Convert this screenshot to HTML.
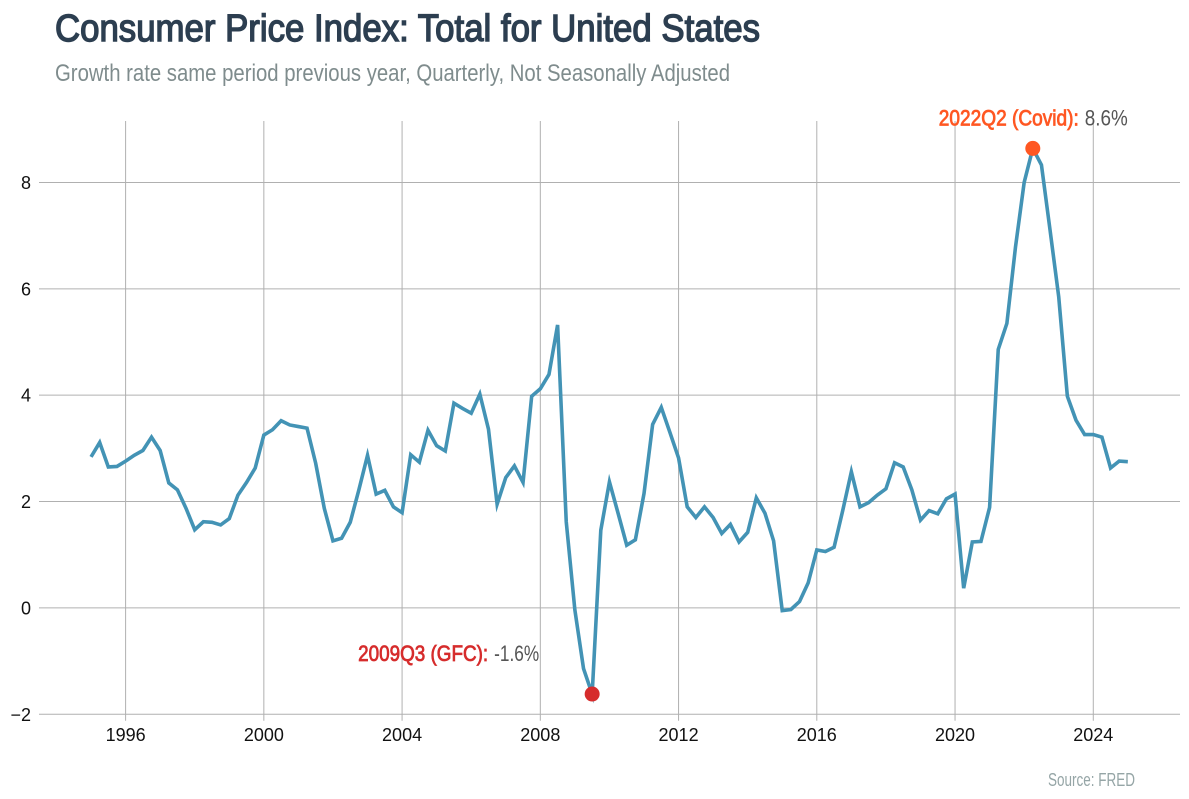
<!DOCTYPE html>
<html lang="en">
<head>
<meta charset="utf-8">
<title>Consumer Price Index: Total for United States</title>
<style>
html,body{margin:0;padding:0;background:#fff;}
svg{display:block;}
text{font-family:"Liberation Sans",sans-serif;}
.narrow{font-family:"Liberation Sans Narrow","Liberation Sans",sans-serif;}
</style>
</head>
<body>
<svg id="chart" xmlns="http://www.w3.org/2000/svg" width="1189" height="799" viewBox="0 0 1189 799">
  <rect width="1189" height="799" fill="#ffffff"/>
  <text class="narrow" x="55" y="41" font-size="38" font-weight="400" fill="#2c3e50" stroke="#2c3e50" stroke-width="1.4" textLength="705" lengthAdjust="spacingAndGlyphs">Consumer Price Index: Total for United States</text>
  <text class="narrow" x="55" y="81" font-size="24" fill="#7f8c8d" textLength="675" lengthAdjust="spacingAndGlyphs">Growth rate same period previous year, Quarterly, Not Seasonally Adjusted</text>
  <g id="grid"></g>
  <g id="labels"></g>
  <path id="line" fill="none" stroke="#4393b5" stroke-width="3.6" stroke-linejoin="miter" stroke-miterlimit="6"></path>
  <g id="annotations"></g>
  <text class="narrow" x="1048" y="786" font-size="18" fill="#95a5a6" textLength="87" lengthAdjust="spacingAndGlyphs">Source: FRED</text>
</svg>
<script>
const startYear = 1995;
const quartersPerYear = 4;
const values = [
  2.84,3.11,2.65,2.66,2.76,2.87,2.96,3.21,2.96,2.35,2.22,1.87,1.47,1.62,1.61,1.56,
  1.68,2.12,2.36,2.63,3.25,3.35,3.52,3.44,3.41,3.38,2.72,1.87,1.26,1.31,1.61,2.22,
  2.87,2.14,2.21,1.90,1.79,2.88,2.74,3.34,3.05,2.95,3.85,3.75,3.66,4.02,3.36,1.95,
  2.45,2.67,2.36,3.98,4.12,4.39,5.32,1.62,-0.04,-1.14,-1.62,1.46,2.37,1.78,1.18,1.28,
  2.15,3.45,3.77,3.30,2.82,1.90,1.70,1.90,1.70,1.40,1.57,1.24,1.42,2.07,1.78,1.26,
  -0.05,-0.03,0.12,0.47,1.09,1.06,1.14,1.83,2.56,1.90,1.98,2.12,2.24,2.73,2.65,2.22,
  1.65,1.83,1.77,2.05,2.14,0.37,1.24,1.25,1.89,4.86,5.35,6.79,8.00,8.64,8.33,7.10,
  5.85,3.98,3.53,3.26,3.26,3.21,2.63,2.76,2.75
];
const xTickYears = [1996,2000,2004,2008,2012,2016,2020,2024];
const yTickValues = [-2,0,2,4,6,8];
const highlightQuarters = [[2022,2],[2009,3]];
const highlightNames = ["2022Q2 (Covid):","2009Q3 (GFC):"];
const highlightValues = ["8.6%","-1.6%"];

const SVG_NS = "http://www.w3.org/2000/svg";
function xScale(year){ return 125.6 + (year - 1996) * 34.56; }
function yScale(v){ return 607.9 - v * 53.18; }
function indexX(i){ return xScale(startYear + i / quartersPerYear); }
function make(tag, attrs, parent){
  const el = document.createElementNS(SVG_NS, tag);
  for (const k in attrs) el.setAttribute(k, attrs[k]);
  parent.appendChild(el);
  return el;
}
const grid = document.getElementById("grid");
const labels = document.getElementById("labels");
const ann = document.getElementById("annotations");

yTickValues.forEach(function(v){
  const y = yScale(v);
  const g = make("line", {x1:39,x2:1180,y1:y,y2:y,stroke:"#b0b0b0","stroke-width":1}, grid);
  
  
  const t = make("text", {x:31,y:y+6.5,"text-anchor":"end","font-size":18,fill:"#111111"}, labels);
  t.textContent = v < 0 ? "\u2212" + Math.abs(v) : String(v);
  
  
});
xTickYears.forEach(function(yr){
  const x = xScale(yr);
  const g = make("line", {x1:x,x2:x,y1:121,y2:720.7,stroke:"#b0b0b0","stroke-width":1}, grid);
  
  
  const t = make("text", {x:x,y:741,"text-anchor":"middle","font-size":18,fill:"#111111"}, labels);
  t.textContent = String(yr);
  
  
});

document.getElementById("line").setAttribute("d", values.map(function(v,i){
  return (i ? "L" : "M") + indexX(i).toFixed(2) + " " + yScale(v).toFixed(2);
}).join(" "));

const styles = [
  {color:"#ff5722", nameDx:-94, nameW:140, valDx:52, valW:43, dy:-23},
  {color:"#d62c2c", nameDx:-234, nameW:130, valDx:-98, valW:45, dy:-33}
];
highlightQuarters.forEach(function(q,k){
  const i = (q[0] - startYear) * quartersPerYear + q[1] - 1;
  const cx = indexX(i), cy = yScale(values[i]);
  const s = styles[k];
  const labelY = cy + s.dy;
  const c = make("circle", {cx:cx,cy:cy,r:7.5,fill:s.color}, ann);
  
  
  const n = make("text", {x:cx+s.nameDx,y:labelY,"font-size":22,fill:s.color,stroke:s.color,"stroke-width":0.8,"class":"narrow",textLength:s.nameW,lengthAdjust:"spacingAndGlyphs"}, ann);
  n.textContent = highlightNames[k];
  
  
  const vt = make("text", {x:cx+s.valDx,y:labelY,"font-size":22,fill:"#555555","class":"narrow",textLength:s.valW,lengthAdjust:"spacingAndGlyphs"}, ann);
  vt.textContent = highlightValues[k];
  
  
});
</script>
</body>
</html>
